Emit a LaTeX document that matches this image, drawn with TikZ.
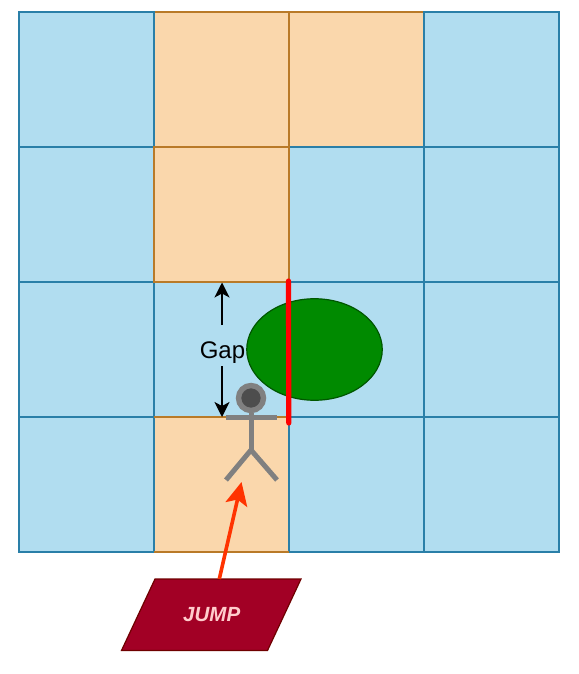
\documentclass[tikz,border=0pt]{standalone}
\usepackage{fontspec}
\setmainfont{Liberation Sans}
\usetikzlibrary{arrows.meta,shapes.geometric}
\definecolor{cellblue}{HTML}{B1DDF0}
\definecolor{edgeblue}{HTML}{2A7FA8}
\definecolor{cellorange}{HTML}{FAD7AC}
\definecolor{edgeorange}{HTML}{B97A28}
\definecolor{treegreen}{HTML}{008A00}
\definecolor{treeedge}{HTML}{005700}
\definecolor{jumpfill}{HTML}{A20025}
\definecolor{jumpedge}{HTML}{6F0000}
\definecolor{jumptext}{HTML}{FFCCCC}
\definecolor{figgray}{HTML}{808080}
\definecolor{headgray}{HTML}{4D4D4D}
\definecolor{redarrow}{HTML}{FF3300}
\tikzset{
  x=1pt,y=-1pt,
  cellbase/.style={rectangle,minimum size=135pt,inner sep=0pt,outer sep=0pt,line width=1.5pt},
  bluecell/.style={cellbase,fill=cellblue,draw=edgeblue},
  orangecell/.style={cellbase,fill=cellorange,draw=edgeorange},
  figline/.style={draw=figgray,line width=5pt},
  gaparrow/.style={-{Stealth[length=15pt,width=15pt,inset=4pt]},line width=1.4pt,black}
}
\begin{document}
\begin{tikzpicture}
\useasboundingbox (0,0) rectangle (578,674);
% orange cells that lie under their blue neighbours
\node[orangecell] (c01) at (221.5,79.5) {};
\node[orangecell] (c02) at (356.5,79.5) {};
\node[orangecell] (c31) at (221.5,484.5) {};
% blue cells
\node[bluecell] (c00) at (86.5,79.5) {};
\node[bluecell] (c03) at (491.5,79.5) {};
\node[bluecell] (c10) at (86.5,214.5) {};
\node[bluecell] (c12) at (356.5,214.5) {};
\node[bluecell] (c13) at (491.5,214.5) {};
\node[bluecell] (c20) at (86.5,349.5) {};
\node[bluecell] (c21) at (221.5,349.5) {};
\node[bluecell] (c22) at (356.5,349.5) {};
\node[bluecell] (c23) at (491.5,349.5) {};
\node[bluecell] (c30) at (86.5,484.5) {};
\node[bluecell] (c32) at (356.5,484.5) {};
\node[bluecell] (c33) at (491.5,484.5) {};
% top-most edges
\node[orangecell] (c11) at (221.5,214.5) {};
\draw[edgeorange,line width=1.5pt] (c31.north west) -- (c31.north east);
\draw[edgeorange,line width=1.5pt] (c31.south west) -- (c31.south east);
% tree
\node[ellipse,fill=treegreen,draw=treeedge,line width=1.2pt,minimum width=135.5pt,minimum height=101.5pt,inner sep=0pt] (tree) at (314.5,349.5) {};
% gap label and arrows
\node[inner sep=0pt,anchor=base,font=\fontsize{24}{28}\selectfont] (gap) at (222.5,358) {Gap};
\coordinate (gaparrowtop) at (222,325);
\coordinate (gaparrowbot) at (222,366);
\coordinate (gaptop) at (222,282.5);
\coordinate (gapbot) at (222,417);
\draw[gaparrow] (gaparrowtop) -- (gaptop);
\draw[gaparrow] (gaparrowbot) -- (gapbot);
% figure
\node[circle,fill=headgray,draw=figgray,line width=5.4pt,minimum size=25pt,inner sep=0pt] (head) at (251,398) {};
\coordinate (hip) at (251,450);
\coordinate (armL) at (226,417);
\coordinate (armR) at (277,417);
\coordinate (legL) at (226,480);
\coordinate (legR) at (277,480);
\draw[figline] (head.south) -- (hip);
\draw[figline] (armL) -- (armR);
\draw[figline,line join=miter] (legL) -- (hip) -- (legR);
% wall
\coordinate (walltop) at (288.5,281);
\coordinate (wallbot) at (288.8,423);
\draw[red,line width=5.2pt,line cap=round] (walltop) -- (wallbot);
% jump
\coordinate (jtl) at (155,579);
\coordinate (jtr) at (301,579);
\coordinate (jbr) at (267.5,650.5);
\coordinate (jbl) at (121.5,650.5);
\draw[fill=jumpfill,draw=jumpedge,line width=1.2pt] (jtl) -- (jtr) -- (jbr) -- (jbl) -- cycle;
\node[inner sep=0pt,anchor=base,font=\fontsize{20.5}{24}\selectfont\bfseries\itshape,text=jumptext] (jump) at (211.7,621.7) {JUMP};
\coordinate (jumpstart) at (219.3,579);
\coordinate (jumptarget) at (241.5,482);
\draw[redarrow,line width=3.6pt,-{Stealth[length=23pt,width=22pt,inset=5pt]}] (jumpstart) -- (jumptarget);
\end{tikzpicture}
\end{document}
